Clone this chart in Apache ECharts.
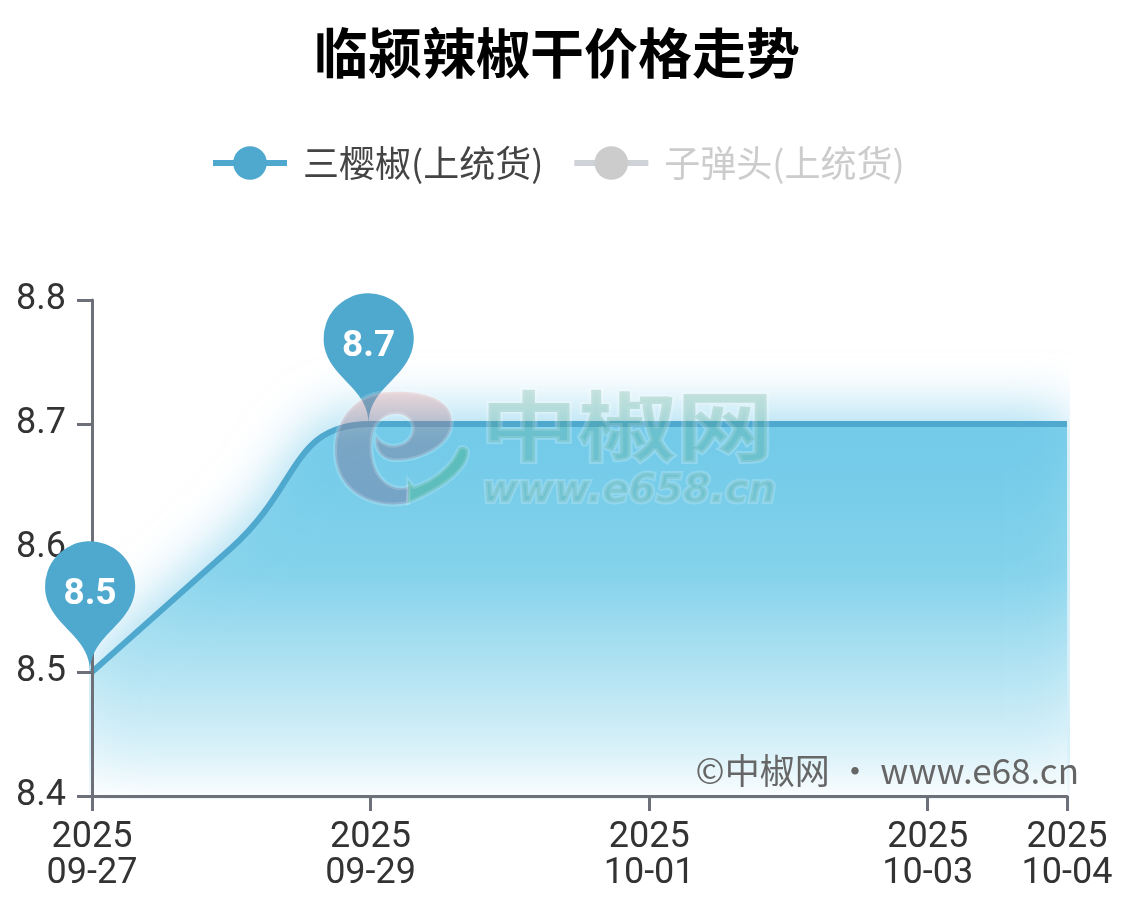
<!DOCTYPE html>
<html><head><meta charset="utf-8">
<style>html,body{margin:0;padding:0;background:#fff}#c{width:1123px;height:921px}</style>
<script src="https://cdn.jsdelivr.net/npm/echarts@6/dist/echarts.min.js"></script></head>
<body><div id="c"></div>
<script>
const categories=['2025\n09-27','2025\n09-28','2025\n09-29','2025\n09-30','2025\n10-01','2025\n10-02','2025\n10-03','2025\n10-04'];
const shownLabels=[0,2,4,6,7];
const sanYing=[8.5,8.6,8.7,8.7,8.7,8.7,8.7,8.7];
const ziDan=[];
const pins=[{coord:[0,8.5],value:8.5},{coord:[2,8.7],value:8.7}];
const cjk='"Noto Sans CJK SC"';
echarts.graphic.registerShape('logoE',echarts.graphic.extendPath('M390 392C425 390 452 400 452 422C452 445 420 462 392 460C380 458 374 448 376 436C382 445 392 448 402 444C412 440 416 428 410 420C402 410 385 412 376 425C368 440 370 470 385 482C392 488 402 490 410 486L408 503C370 510 335 490 335 450C335 415 360 392 390 392Z'));
echarts.graphic.registerShape('logoTail',echarts.graphic.extendPath('M408 480L414 487C435 480 452 465 458 450C460 445 468 447 468 452C468 470 440 490 408 503Z'));
const chart=echarts.init(document.getElementById('c'),null,{renderer:'canvas'});
const show=i=>shownLabels.includes(i);
chart.setOption({
 animation:false,
 title:{text:'临颍辣椒干价格走势',left:309,top:21,textStyle:{fontFamily:cjk,fontSize:54,fontWeight:'bold',color:'#000'}},
 legend:{top:140,left:205,itemWidth:74,itemHeight:42,itemGap:28,selected:{'子弹头(上统货)':false},inactiveColor:'#ccc',
  lineStyle:{width:6,inactiveWidth:6},
  textStyle:{fontFamily:cjk,fontSize:36,color:'#444',padding:[0,0,0,11]},
  data:['三樱椒(上统货)','子弹头(上统货)']},
 grid:{left:92,right:56,top:300,bottom:125},
 xAxis:{type:'category',boundaryGap:false,data:categories,z:4,
  axisLine:{lineStyle:{color:'#6E7079',width:3}},
  axisTick:{length:15,alignWithLabel:true,interval:show,lineStyle:{color:'#6E7079',width:3}},
  axisLabel:{interval:show,margin:24,fontFamily:'Roboto',fontSize:36,lineHeight:36,color:'#333'}},
 yAxis:{type:'value',min:8.4,max:8.8,interval:0.1,splitLine:{show:false},z:4,
  axisLine:{show:true,lineStyle:{color:'#6E7079',width:3}},
  axisTick:{show:true,length:15,lineStyle:{color:'#6E7079',width:3}},
  axisLabel:{margin:26,padding:[5,0,0,0],fontFamily:'Roboto',fontSize:36,color:'#333',formatter:v=>v.toFixed(1)}},
 series:[
  {name:'三樱椒(上统货)',type:'line',smooth:true,symbol:'circle',symbolSize:1,showSymbol:false,data:sanYing,
   itemStyle:{color:'#4FA8CE'},lineStyle:{width:6,color:'#4FA8CE'},
   areaStyle:{opacity:.8,color:new echarts.graphic.LinearGradient(0,0,0,1,[{offset:0,color:'#60C4E6'},{offset:.4,color:'#7CD0EA'},{offset:1,color:'#FFFFFF'}]),
     shadowColor:'rgba(108,198,232,.75)',shadowBlur:52,shadowOffsetY:-14},
   markPoint:{z:5,symbol:'pin',symbolSize:150,symbolOffset:[-2,0],itemStyle:{color:'#4FA8CE'},data:pins,
     label:{color:'#fff',fontFamily:'Roboto',fontWeight:'bold',fontSize:37,offset:[0,1]}}},
  {name:'子弹头(上统货)',type:'line',smooth:true,symbol:'circle',data:ziDan,itemStyle:{color:'#ccc'},lineStyle:{width:6}}
 ],
 graphic:[
  {type:'text',z:100,right:44,top:753,style:{text:'©中椒网 · www.e68.cn',font:'35px '+cjk,fill:'#666'}},
  {type:'group',silent:true,children:[
   {type:'logoE',z:90,shape:{},style:{fill:new echarts.graphic.LinearGradient(0,0,0,1,[{offset:0,color:'rgba(230,140,140,.3)'},{offset:.45,color:'rgba(130,115,145,.42)'},{offset:1,color:'rgba(110,105,150,.42)'}]),stroke:'rgba(255,255,255,.18)',lineWidth:4}},
   {type:'logoTail',z:90,shape:{},style:{fill:'rgba(70,175,145,.5)',stroke:'rgba(255,255,255,.15)',lineWidth:4}},
   {type:'text',z:90,originX:0,originY:426,scaleY:.78,style:{x:480,y:426,verticalAlign:'middle',text:'中椒网',font:'bold 98px '+cjk,fill:'rgba(90,165,135,.27)',stroke:'rgba(255,255,255,.2)',lineWidth:5}},
   {type:'text',z:90,style:{x:482,y:472,text:'www.e658.cn',font:'italic bold 39px "DejaVu Sans"',fill:'rgba(90,165,135,.24)',stroke:'rgba(255,255,255,.18)',lineWidth:4}}
  ]}
 ]
});
</script></body></html>
